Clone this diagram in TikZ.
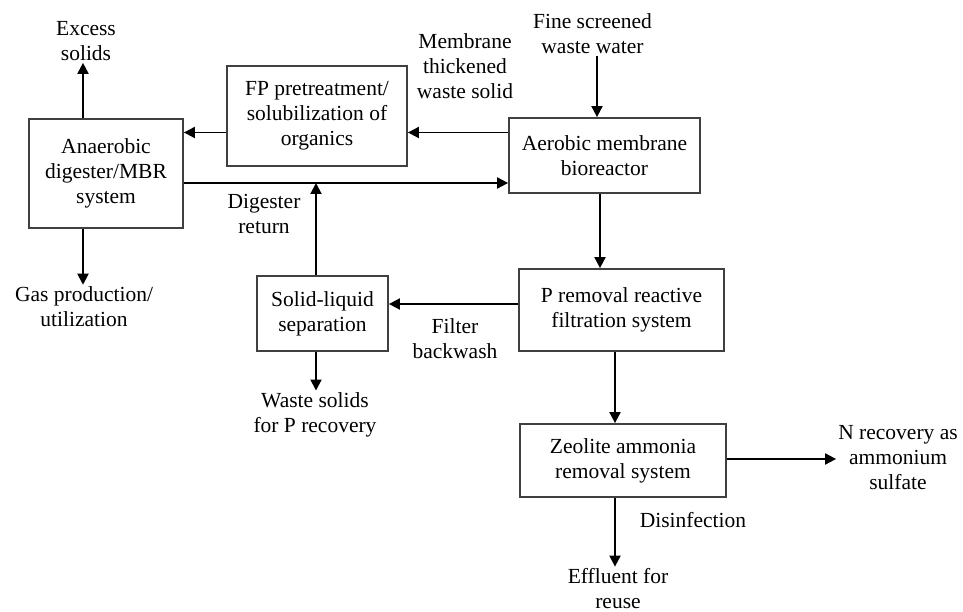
\documentclass[tikz,border=0pt]{standalone}
\usepackage{fontspec}
\setmainfont{Liberation Serif}
\usepackage{tikz}
\usetikzlibrary{calc,positioning,arrows.meta,backgrounds}

\begin{document}
\begin{tikzpicture}[x=1pt, y=-1pt]
\tikzstyle{blk}=[draw=black!75, line width=1.8pt, align=center, inner sep=2pt, font=\fontsize{21.5}{25}\selectfont]
\tikzstyle{lbl}=[align=center, inner sep=2pt, font=\fontsize{21.5}{25}\selectfont]
\tikzstyle{arr}=[line width=1.9pt, -{Triangle[length=11pt,width=11pt]}]

\useasboundingbox (0,0) rectangle (963,612);

% process blocks
\node[blk, minimum width=154pt, minimum height=109pt] (AD) at (106,173.5) {Anaerobic\\digester/MBR\\system};
\node[blk, minimum width=180pt, minimum height=100pt] (FP) at (317,116) {FP pretreatment/\\solubilization of\\organics};
\node[blk, minimum width=191pt, minimum height=75pt] (AMB) at (604.5,155.5) {Aerobic membrane\\bioreactor};
\node[blk, minimum width=131pt, minimum height=75pt] (SL) at (322.5,313.5) {Solid-liquid\\separation};
\node[blk, minimum width=205pt, minimum height=82pt] (PR) at (621.5,310) {P removal reactive\\filtration system};
\node[blk, minimum width=206pt, minimum height=73pt] (ZA) at (623,460.5) {Zeolite ammonia\\removal system};

% in/out streams
\node[lbl] (ES) at (86,41) {Excess\\solids};
\node[lbl] (GP) at (84,307) {Gas production/\\utilization};
\node[lbl] (MT) at (465,66) {Membrane\\thickened\\waste solid};
\node[lbl] (FS) at (592.5,34) {Fine screened\\waste water};
\node[lbl] (DR) at (264,214) {Digester\\return};
\node[lbl] (FB) at (455,338.5) {Filter\\backwash};
\node[lbl] (WS) at (315,415) {Waste solids\\for P recovery};
\node[lbl] (NR) at (898,458) {N recovery as\\ammonium\\sulfate};
\node[lbl] (DI) at (693,520) {Disinfection};
\node[lbl] (EF) at (618,589) {Effluent for\\reuse};

\coordinate (ret) at (316,183);

\draw[arr] ([xshift=-23pt]AD.north) -- ([xshift=-23pt]AD.north |- ES.south);
\draw[arr] ([xshift=-23pt]AD.south) -- ([xshift=-23pt]AD.south |- GP.north);
\draw[arr] ([yshift=-16.5pt]FP.west) -- ([yshift=41pt]AD.east);
\draw[arr] ([yshift=23pt]AMB.west) -- ([yshift=-16.5pt]FP.east);
\draw[arr] ([yshift=-9.5pt]AD.east) -- ([yshift=-27.5pt]AMB.west);
\draw[arr] ([xshift=-6.5pt]SL.north) -- (ret);
\draw[arr] ([xshift=4.5pt]FS.south) -- ([xshift=-7.5pt]AMB.north);
\draw[arr] ([xshift=-4.5pt]AMB.south) -- ([xshift=-21.5pt]PR.north);
\draw[arr] ([yshift=6pt]PR.west) -- ([yshift=9.5pt]SL.east);
\draw[arr] ([xshift=-6.5pt]SL.south) -- ([xshift=1pt]WS.north);
\draw[arr] ([xshift=-6.5pt]PR.south) -- ([xshift=-8pt]ZA.north);
\draw[arr] ([yshift=1.5pt]ZA.east) -- ([yshift=-1pt]NR.west);
\draw[arr] ([xshift=-8pt]ZA.south) -- ([xshift=-3pt]EF.north);
\end{tikzpicture}
\end{document}
